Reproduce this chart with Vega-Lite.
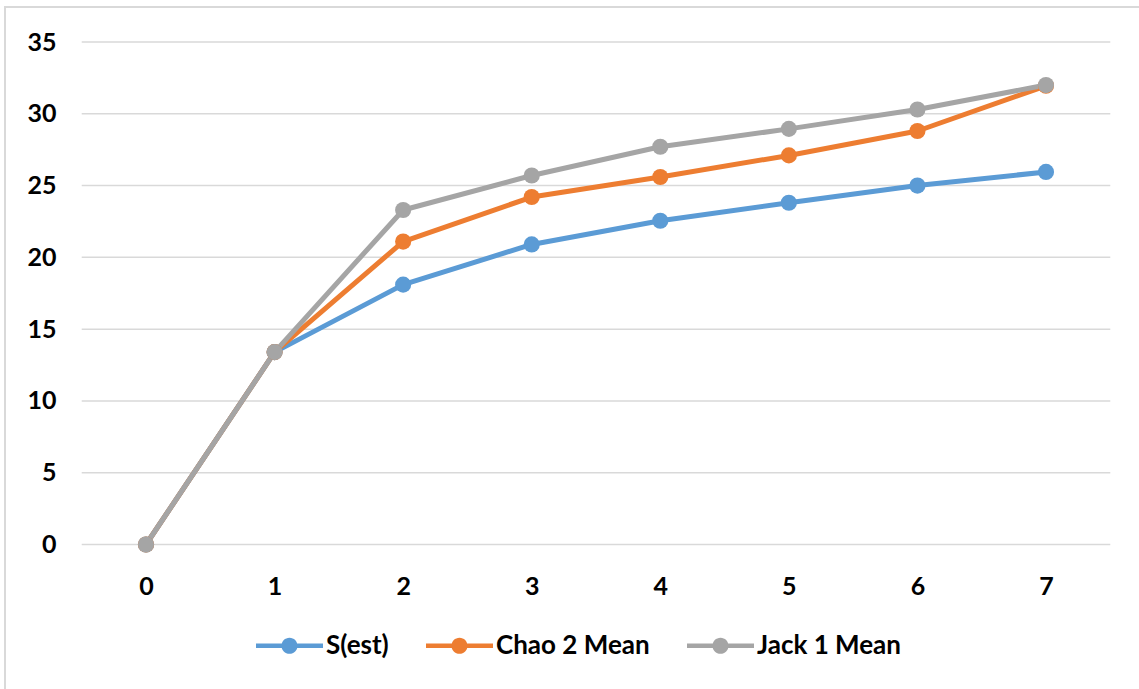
{
  "$schema": "https://vega.github.io/schema/vega-lite/v6.json",
  "autosize": {"type": "none"},
  "padding": {"left": 5, "top": 7, "right": -3, "bottom": -3},
  "width": 1137,
  "height": 685,
  "background": "white",
  "config": {
    "view": {"stroke": "#d9d9d9", "strokeWidth": 2},
    "font": "Lato",
    "axis": {"labelFont": "Lato", "labelFontWeight": "bold", "labelFontSize": 25, "labelColor": "#000000", "domain": false, "ticks": false, "tickSize": 0, "grid": false, "title": null},
    "legend": {"labelFont": "Lato", "labelFontWeight": "bold", "labelFontSize": 26, "labelColor": "#000000"}
  },
  "datasets": {
    "series": [
      {"x": 0, "y": 0, "series": "S(est)"},
      {"x": 1, "y": 13.4, "series": "S(est)"},
      {"x": 2, "y": 18.1, "series": "S(est)"},
      {"x": 3, "y": 20.9, "series": "S(est)"},
      {"x": 4, "y": 22.55, "series": "S(est)"},
      {"x": 5, "y": 23.8, "series": "S(est)"},
      {"x": 6, "y": 25.0, "series": "S(est)"},
      {"x": 7, "y": 25.95, "series": "S(est)"},
      {"x": 0, "y": 0, "series": "Chao 2 Mean"},
      {"x": 1, "y": 13.4, "series": "Chao 2 Mean"},
      {"x": 2, "y": 21.1, "series": "Chao 2 Mean"},
      {"x": 3, "y": 24.2, "series": "Chao 2 Mean"},
      {"x": 4, "y": 25.6, "series": "Chao 2 Mean"},
      {"x": 5, "y": 27.1, "series": "Chao 2 Mean"},
      {"x": 6, "y": 28.8, "series": "Chao 2 Mean"},
      {"x": 7, "y": 31.95, "series": "Chao 2 Mean"},
      {"x": 0, "y": 0, "series": "Jack 1 Mean"},
      {"x": 1, "y": 13.4, "series": "Jack 1 Mean"},
      {"x": 2, "y": 23.3, "series": "Jack 1 Mean"},
      {"x": 3, "y": 25.7, "series": "Jack 1 Mean"},
      {"x": 4, "y": 27.7, "series": "Jack 1 Mean"},
      {"x": 5, "y": 28.95, "series": "Jack 1 Mean"},
      {"x": 6, "y": 30.3, "series": "Jack 1 Mean"},
      {"x": 7, "y": 32.0, "series": "Jack 1 Mean"}
    ],
    "grid": [
      {"gy": 0, "gx": -0.5, "gx2": 7.5},
      {"gy": 5, "gx": -0.5, "gx2": 7.5},
      {"gy": 10, "gx": -0.5, "gx2": 7.5},
      {"gy": 15, "gx": -0.5, "gx2": 7.5},
      {"gy": 20, "gx": -0.5, "gx2": 7.5},
      {"gy": 25, "gx": -0.5, "gx2": 7.5},
      {"gy": 30, "gx": -0.5, "gx2": 7.5},
      {"gy": 35, "gx": -0.5, "gx2": 7.5}
    ]
  },
  "layer": [
    {
      "data": {"name": "grid"},
      "mark": {"type": "rule", "color": "#d9d9d9", "strokeWidth": 1.5},
      "encoding": {
        "x": {"field": "gx", "type": "quantitative", "scale": {"domain": [-1.0967, 7.7467], "nice": false, "zero": false}, "axis": {"values": [0, 1, 2, 3, 4, 5, 6, 7], "format": "d", "offset": -147.5, "labelPadding": 30}},
        "x2": {"field": "gx2"},
        "y": {"field": "gy", "type": "quantitative", "scale": {"domain": [-10.274, 37.438], "nice": false, "zero": false}, "axis": {"values": [0, 5, 10, 15, 20, 25, 30, 35], "offset": -51, "labelPadding": 0}}
      }
    },
    {
      "data": {"name": "series"},
      "mark": {"type": "line", "strokeWidth": 5, "strokeCap": "round", "strokeJoin": "round"},
      "encoding": {
        "x": {"field": "x", "type": "quantitative"},
        "y": {"field": "y", "type": "quantitative"},
        "color": {"field": "series", "type": "nominal", "scale": {"domain": ["S(est)", "Chao 2 Mean", "Jack 1 Mean"], "range": ["#5B9BD5", "#ED7D31", "#A5A5A5"]}, "legend": {
          "title": null,
          "orient": "none",
          "direction": "horizontal",
          "legendX": 251,
          "legendY": 605,
          "padding": 0,
          "symbolType": "M-1,-0.07 L1,-0.07 L1,0.07 L-1,0.07 Z M-0.24,0 A0.24,0.24 0 1,1 0.24,0 A0.24,0.24 0 1,1 -0.24,0 Z",
          "symbolSize": 4489,
          "symbolStrokeWidth": 0,
          "labelOffset": 3,
          "columnPadding": 37,
          "encode": {"symbols": {"update": {"fill": {"scale": "color", "field": "value"}, "stroke": {"value": "transparent"}, "opacity": {"value": 1}}}}
        }}
      }
    },
    {
      "data": {"name": "series"},
      "mark": {"type": "point", "filled": true, "size": 260, "opacity": 1},
      "encoding": {
        "x": {"field": "x", "type": "quantitative"},
        "y": {"field": "y", "type": "quantitative"},
        "color": {"field": "series", "type": "nominal"}
      }
    }
  ]
}
